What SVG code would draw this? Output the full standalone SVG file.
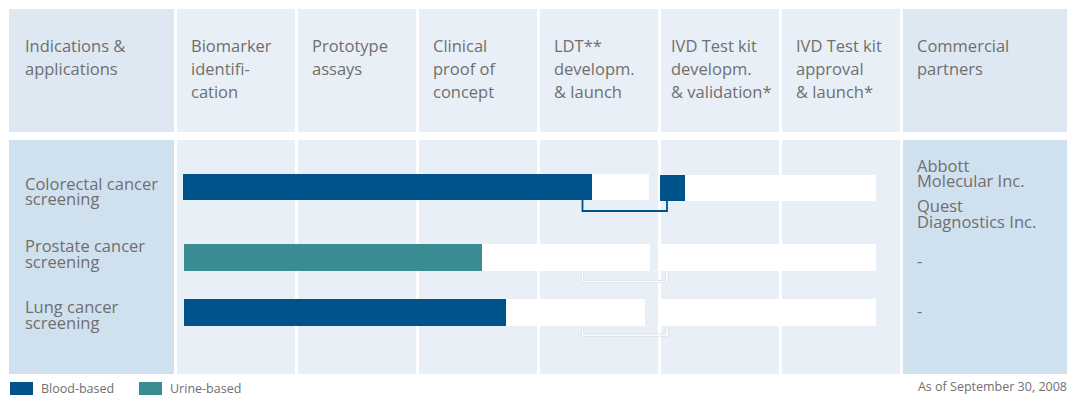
<svg xmlns="http://www.w3.org/2000/svg" width="1072" height="395" viewBox="0 0 1072 395">
  <style>
    .t { font-family: "Open Sans", "Noto Sans", "DejaVu Sans", sans-serif; fill: #6f6f6f; }
    .h { font-size: 16.5px; }
    .s { font-size: 12.5px; }
    .hL { fill: #dde8f2; }
    .hM { fill: #e8eff6; }
    .bL { fill: #cfe0ee; }
    .bM { fill: #e8eff6; }
    .blue { fill: #00528a; }
    .teal { fill: #3a8c93; }
    .wbar { fill: #ffffff; }
    .brBlue { fill: none; stroke: #00528a; stroke-width: 1.8; }
    .brOut { fill: none; stroke: #d3dbe4; stroke-width: 3; }
    .brIn { fill: none; stroke: #ffffff; stroke-width: 1.6; }
  </style>
  <rect x="0" y="0" width="1072" height="395" fill="#ffffff"/>

  <g id="header">
    <g id="h-indications">
      <rect class="hL" x="9" y="9" width="165" height="123"/>
      <text class="t h" x="25" y="51.5">Indications &amp;</text>
      <text class="t h" x="25" y="74.5">applications</text>
    </g>
    <g id="h-biomarker">
      <rect class="hM" x="177" y="9" width="118" height="123"/>
      <text class="t h" x="191" y="51.5">Biomarker</text>
      <text class="t h" x="191" y="74.5">identifi-</text>
      <text class="t h" x="191" y="97.5">cation</text>
    </g>
    <g id="h-prototype">
      <rect class="hM" x="298" y="9" width="118" height="123"/>
      <text class="t h" x="312" y="51.5">Prototype</text>
      <text class="t h" x="312" y="74.5">assays</text>
    </g>
    <g id="h-clinical">
      <rect class="hM" x="419" y="9" width="118" height="123"/>
      <text class="t h" x="433" y="51.5">Clinical</text>
      <text class="t h" x="433" y="74.5">proof of</text>
      <text class="t h" x="433" y="97.5">concept</text>
    </g>
    <g id="h-ldt">
      <rect class="hM" x="540" y="9" width="118" height="123"/>
      <text class="t h" x="554" y="51.5">LDT**</text>
      <text class="t h" x="554" y="74.5">developm.</text>
      <text class="t h" x="554" y="97.5">&amp; launch</text>
    </g>
    <g id="h-ivd-dev">
      <rect class="hM" x="661" y="9" width="118" height="123"/>
      <text class="t h" x="671" y="51.5">IVD Test kit</text>
      <text class="t h" x="671" y="74.5">developm.</text>
      <text class="t h" x="671" y="97.5">&amp; validation*</text>
    </g>
    <g id="h-ivd-approval">
      <rect class="hM" x="782" y="9" width="118" height="123"/>
      <text class="t h" x="796" y="51.5">IVD Test kit</text>
      <text class="t h" x="796" y="74.5">approval</text>
      <text class="t h" x="796" y="97.5">&amp; launch*</text>
    </g>
    <g id="h-commercial">
      <rect class="hL" x="903" y="9" width="164" height="123"/>
      <text class="t h" x="917" y="51.5">Commercial</text>
      <text class="t h" x="917" y="74.5">partners</text>
    </g>
  </g>

  <g id="body-background">
    <rect class="bL" x="9" y="140" width="165" height="234"/>
    <rect class="bM" x="177" y="140" width="118" height="234"/>
    <rect class="bM" x="298" y="140" width="118" height="234"/>
    <rect class="bM" x="419" y="140" width="118" height="234"/>
    <rect class="bM" x="540" y="140" width="118" height="234"/>
    <rect class="bM" x="661" y="140" width="118" height="234"/>
    <rect class="bM" x="782" y="140" width="118" height="234"/>
    <rect class="bL" x="903" y="140" width="164" height="234"/>
  </g>

  <g id="connectors">
    <path class="brBlue" d="M582.5,199 V211 H667 V200"/>
    <path class="brOut" d="M582.5,270 V281.5 H667 V270"/>
    <path class="brIn" d="M582.5,270 V281.5 H667 V270"/>
    <path class="brOut" d="M582.5,325 V335 H667 V325"/>
    <path class="brIn" d="M582.5,325 V335 H667 V325"/>
  </g>

  <g id="row-colorectal">
    <text class="t h" x="25" y="189.5">Colorectal cancer</text>
    <text class="t h" x="25" y="205">screening</text>
    <rect class="wbar" x="592" y="174" width="57" height="26"/>
    <rect class="blue" x="183" y="174" width="409" height="26"/>
    <rect class="wbar" x="685" y="175" width="191" height="26"/>
    <rect class="blue" x="660" y="175" width="25" height="26"/>
  </g>

  <g id="row-prostate">
    <text class="t h" x="25" y="251.5">Prostate cancer</text>
    <text class="t h" x="25" y="267.5">screening</text>
    <rect class="wbar" x="482" y="244" width="168" height="27"/>
    <rect class="teal" x="184" y="244" width="298" height="27"/>
    <rect class="wbar" x="658" y="244" width="218" height="27"/>
  </g>

  <g id="row-lung">
    <text class="t h" x="25" y="312.5">Lung cancer</text>
    <text class="t h" x="25" y="328.5">screening</text>
    <rect class="wbar" x="506" y="299" width="139" height="27"/>
    <rect class="blue" x="184" y="299" width="322" height="27"/>
    <rect class="wbar" x="658" y="299" width="218" height="27"/>
  </g>

  <g id="partners">
    <text class="t h" x="917" y="171.5">Abbott</text>
    <text class="t h" x="917" y="187">Molecular Inc.</text>
    <text class="t h" x="917" y="211.5">Quest</text>
    <text class="t h" x="917" y="227.5">Diagnostics Inc.</text>
    <text class="t h" x="917" y="267">-</text>
    <text class="t h" x="917" y="317">-</text>
  </g>

  <g id="legend">
    <rect class="blue" x="10" y="382" width="23" height="14"/>
    <text class="t s" x="41" y="393">Blood-based</text>
    <rect class="teal" x="139" y="382" width="23" height="14"/>
    <text class="t s" x="170" y="393">Urine-based</text>
  </g>

  <g id="footnote">
    <text class="t s" x="1067" y="391" text-anchor="end">As of September 30, 2008</text>
  </g>
</svg>
